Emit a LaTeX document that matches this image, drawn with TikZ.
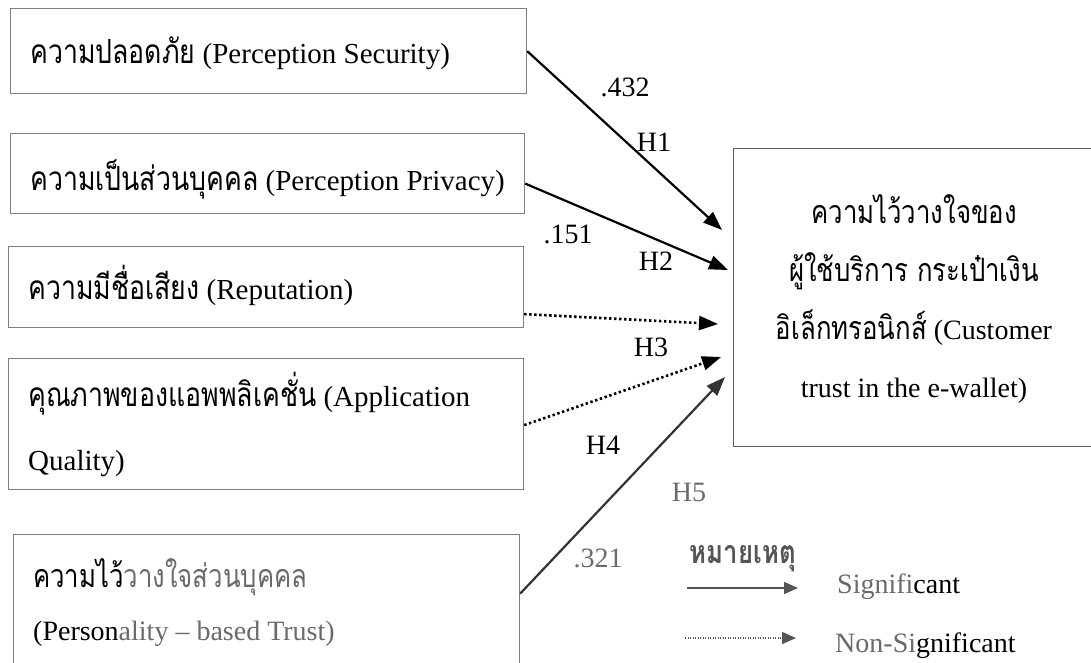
\documentclass[tikz,border=0pt]{standalone}
\usepackage{fontspec}
\setmainfont{Liberation Serif}
\newfontfamily\thai[Script=Thai,Scale=1.15,FakeStretch=0.8]{Loma}
\usetikzlibrary{arrows.meta,calc}
\definecolor{boxc}{HTML}{7F7F7F}
\definecolor{rbox}{HTML}{5E5E5E}
\definecolor{wm}{HTML}{6A6A6A}
\definecolor{legc}{HTML}{555555}
\tikzset{
  box/.style={draw=boxc,line width=1.2pt,inner sep=0pt,anchor=north west},
  txt/.style={inner sep=0pt,font=\fontsize{29}{35}\selectfont},
  txs/.style={inner sep=0pt,font=\fontsize{28}{34}\selectfont},
  lbl/.style={inner sep=0pt,anchor=base,font=\fontsize{28}{34}\selectfont},
  sig/.style={line width=2.2pt,-{Triangle[length=19pt,width=14pt]}},
  nsig/.style={line width=2.6pt,dash pattern=on 2.4pt off 2.6pt,-{Triangle[length=19pt,width=14pt]}},
}
\begin{document}
\begin{tikzpicture}[x=1pt,y=-1pt]
\useasboundingbox (0,0) rectangle (1091,662);
\clip (0,0) rectangle (1091,662);
\fill[white] (0,0) rectangle (1091,662);
% boxes
\node[box,minimum width=516pt,minimum height=85pt] (b1) at (10,8) {};
\node[box,minimum width=514pt,minimum height=80pt] (b2) at (10,133) {};
\node[box,minimum width=515pt,minimum height=81pt] (b3) at (8,246) {};
\node[box,minimum width=515pt,minimum height=131pt] (b4) at (8,358) {};
\node[box,minimum width=506pt,minimum height=150pt] (b5) at (13,534) {};
\node[box,draw=rbox,minimum width=362pt,minimum height=298pt] (rb) at (733,148) {};
% box texts
\node[txt,anchor=base west] (t1) at (30,63) {{\thai ความปลอดภัย} (Perception Security)};
\node[txt,anchor=base west] (t2) at (30,190) {{\thai ความเป็นส่วนบุคคล} (Perception Privacy)};
\node[txt,anchor=base west] (t3) at (28,299) {{\thai ความมีชื่อเสียง} (Reputation)};
\node[txt,anchor=base west] (t4a) at (28,406) {{\thai คุณภาพของแอพพลิเคชั่น} (Application};
\node[txt,anchor=base west] (t4b) at (28,470) {Quality)};
\node[txs,anchor=base west] (t5a) at (33,587) {{\thai ความไว้\textcolor{wm}{วางใจส่วนบุคคล}}};
\node[txs,anchor=base west] (t5b) at (33,640) {(Person\textcolor{wm}{ality -- based Trust)}};
% right box text
\node[lbl] (r1) at (914,223) {\thai ความไว้วางใจของ};
\node[lbl] (r2) at (914,281) {\thai ผู้ใช้บริการ กระเป๋าเงิน};
\node[lbl] (r3) at (914,339) {{\thai อิเล็กทรอนิกส์} (Customer};
\node[lbl] (r4) at (914,397) {trust in the e-wallet)};
% arrow tips
\coordinate (e1) at (722,230);
\coordinate (e2) at (728,270);
\coordinate (e3) at (718,324);
\coordinate (e4) at (721,357);
\coordinate (e5) at (725,377);
% connectors
\draw[sig] (b1.east) -- (e1);
\draw[sig] ([yshift=-10pt]b2.east) -- (e2);
\draw[nsig] ([yshift=-27pt]b3.east) -- (e3);
\draw[nsig] ([yshift=-1pt]b4.east) -- (e4);
\draw[sig,draw=black!80,fill=black] ([yshift=16pt]b5.east) -- (e5);
% labels
\node[lbl] (l1) at (625,96) {.432};
\node[lbl] (h1) at (654,151) {H1};
\node[lbl] (l2) at (568,243) {.151};
\node[lbl] (h2) at (656,270) {H2};
\node[lbl] (h3) at (651,356) {H3};
\node[lbl] (h4) at (603,454) {H4};
\node[lbl,text=wm] (h5) at (689,501) {H5};
\node[lbl,text=wm] (l5) at (598,567) {.321};
% legend
\node[lbl,text=legc] (lg) at (743,563) {\thai\bfseries หมายเหตุ};
\coordinate (s0) at (687,588);
\coordinate (s1) at (798,588);
\coordinate (n0) at (685,638);
\coordinate (n1) at (796,638);
\draw[legc,line width=1.6pt,-{Triangle[length=14pt,width=12pt]}] (s0) -- (s1);
\draw[legc,line width=1.4pt,dash pattern=on 1.2pt off 1.3pt,-{Triangle[length=14pt,width=12pt]}] (n0) -- (n1);
\node[lbl,anchor=base west] (ls) at (837,593) {\textcolor{wm}{Signifi}cant};
\node[lbl,anchor=base west] (ln) at (835,652) {\textcolor{wm}{Non-Si}gnificant};
\end{tikzpicture}
\end{document}
